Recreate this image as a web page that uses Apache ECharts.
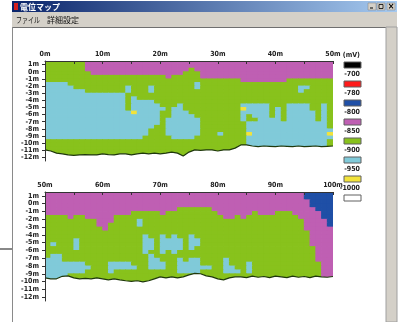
<!DOCTYPE html>
<html>
<head>
<meta charset="utf-8">
<script src="https://cdn.jsdelivr.net/npm/echarts@6/dist/echarts.min.js"></script>
<style>
  html, body { margin: 0; padding: 0; background: #fff; }
  #chart { width: 402px; height: 322px; }
</style>
</head>
<body>
<div id="chart"></div>
<script>
// level codes: b -780..-800, p -800..-850, g -850..-900, c -900..-950, y -950..-1000
const levelValue = { b: -790, p: -825, g: -875, c: -925, y: -975 };

const legendLabels = ['(mV)', '-700', '-780', '-800', '-850', '-900', '-950', '-1000'];
const legendColors = ['#000000', '#ff1a1a', '#1f4fa6', '#bf5fb3', '#88c21c', '#80cad9', '#f2e33a', '#ffffff'];

const depthTicks = [1, 0, -1, -2, -3, -4, -5, -6, -7, -8, -9, -10, -11, -12];

// one column per metre, one row per 0.5 m from +1.5 m down (run-length: code + count)
const mapTop = [
  'g7 p43', 'g7 p43', 'g7 p18 g1 p24', 'g8 p16 g3 p23', 'g21 p1 g5 p23',
  'g34 p8 g8', 'c4 g22 c1 g23', 'c5 g9 c1 g3 c1 g7 c1 g17 c2 g4',
  'c7 g7 c1 g3 c1 g25 c1 g5', 'c14 g36', 'c14 g1 c1 g34', 'c14 g1 c4 g31',
  'c14 g1 c5 g3 c1 g10 c5 g3 c4 g2 c1 g1',
  'c14 g1 c6 g1 c2 g10 y1 c4 g1 c1 g1 c4 g2 c1 g1',
  'c15 y1 c4 g2 c3 g9 c5 g1 c1 g1 c5 g1 c1 g1',
  'c20 g2 c4 g8 c1 g1 c3 g1 c1 g1 c5 g1 c1 g1',
  'c20 g1 c6 g7 c1 g2 c4 g1 c5 g1 c1 g1',
  'c20 g1 c6 g8 c14 g1', 'c19 g2 c6 g8 c14 g1', 'c18 g3 c6 g8 c15',
  'c18 g3 c6 g3 c1 g4 y1 c13 y1', 'c17 g5 c4 g9 c15',
  'g35 c14 g1', 'g35 c14 g1', 'g35 c14 g1', 'g35 c14 g1', 'g35 c14 g1'
];
const mapBottom = [
  'p45 b5', 'p45 b5', 'p46 b4', 'p46 b4', 'p23 g6 p18 b3',
  'p15 g5 p1 g9 p6 g1 p3 g3 p5 b2', 'g4 p1 g2 p5 g19 p2 g1 p1 g9 p4 b2',
  'g9 p3 g4 c1 g28 p4 b1', 'g9 p2 g5 c1 g28 p4 b1', 'g10 p1 g34 p5', 'g46 p4',
  'g17 c1 g2 c1 g1 c1 g2 c1 g20 p4', 'g5 c1 g11 c2 g1 c4 g1 c2 g19 p4',
  'g1 c1 g3 c1 g11 c2 g1 c4 g1 c2 g19 p4', 'g5 c1 g11 c2 g1 c4 g1 c1 g21 p3',
  'g17 c1 g2 c1 g1 c1 g24 p3', 'g1 c2 g15 c1 g28 p3',
  'c3 g15 c2 g3 c1 g1 c2 g4 c1 g15 p3',
  'c7 g4 c4 g3 c3 g2 c4 g4 c1 g3 c1 g12 p2',
  'c8 g3 c5 g2 c3 g2 c6 g2 c2 g2 c1 g12 p2',
  'c7 g4 c1 g11 c4 g4 c3 g1 c1 g12 p2',
  'c4 g44 p2', 'c4 g44 p2', 'c3 g45 p2'
];

// lower edge of the measured area, one value per metre (m)
const edgeTop = [-10.95, -11.1, -11.4, -11.5, -11.65, -11.7, -11.65, -11.6, -11.65, -11.65,
  -11.5, -11.6, -11.65, -11.5, -11.5, -11.65, -11.5, -11.4, -11.5, -11.4,
  -11.5, -11.4, -11.25, -11.4, -11.8, -11.25, -10.95, -11.0, -10.95, -10.95,
  -11.1, -10.95, -10.95, -10.7, -10.25, -10.25, -10.4, -10.5, -10.4, -10.45,
  -10.5, -10.4, -10.45, -10.5, -10.4, -10.5, -10.45, -10.4, -10.5, -10.45, -10.4];
const edgeBottom = [-9.53, -9.65, -9.65, -9.33, -9.27, -9.53, -9.65, -9.6, -9.65, -9.53,
  -9.65, -9.78, -9.65, -9.78, -9.9, -9.97, -9.9, -10.04, -9.9, -9.65,
  -9.4, -9.53, -9.4, -9.53, -9.4, -9.14, -8.95, -9.0, -9.27, -9.4,
  -9.65, -9.78, -9.53, -9.4, -9.4, -9.5, -9.3, -9.45, -9.35, -9.5,
  -9.3, -9.4, -9.5, -9.3, -9.45, -9.35, -9.5, -9.3, -9.4, -9.45, -9.35];

function expand(rle) {
  return rle.split(' ').map(t => t[0].repeat(+t.slice(1))).join('');
}
function cells(map) {
  const out = [];
  map.forEach((rle, r) => {
    const s = expand(rle);
    for (let c = 0; c < s.length; c++) out.push([c, r, levelValue[s[c]]]);
  });
  return out;
}

const colCats = Array.from({ length: 50 }, (_, i) => String(i));
const rowCats = Array.from({ length: 28 }, (_, i) => String(i));

const axisFont = { fontSize: 7, fontWeight: 'bold', color: '#222',
  fontFamily: 'Liberation Sans Narrow, DejaVu Sans Condensed, sans-serif' };

function distAxis(grid, min, max) {
  return {
    type: 'value', gridIndex: grid, position: 'top', min: min, max: max, interval: 5, z: 5,
    axisLine: { onZero: false, lineStyle: { color: '#333', width: 1 } },
    axisTick: { inside: true, length: 3, lineStyle: { color: '#333' } },
    axisLabel: Object.assign({ margin: 3, formatter: v => (v % 10 === 0 ? v + 'm' : '') }, axisFont),
    splitLine: { show: false }
  };
}
function depthAxis(grid) {
  return {
    type: 'value', gridIndex: grid, position: 'left', min: -12.5, max: 1.5, z: 5,
    axisLine: { onZero: false, lineStyle: { color: '#333', width: 1 } },
    axisTick: { length: 3, customValues: depthTicks, lineStyle: { color: '#333' } },
    axisLabel: Object.assign({ margin: 6, customValues: depthTicks, formatter: v => v + 'm' }, axisFont),
    splitLine: { show: false }
  };
}
// one filled cell per grid value, overlapping slightly so no seams show
function cellSeries(data, xi, yi) {
  return {
    type: 'custom', xAxisIndex: xi, yAxisIndex: yi, data: data, silent: true, clip: true,
    encode: { x: 0, y: 1 },
    renderItem: function (params, api) {
      const p = api.coord([api.value(0), api.value(1)]);
      const s = api.size([1, 1]);
      return {
        type: 'rect',
        shape: { x: p[0] - s[0] / 2 - 0.4, y: p[1] - s[1] / 2 - 0.4, width: s[0] + 0.8, height: s[1] + 0.8 },
        style: { fill: api.visual('color') }
      };
    }
  };
}
function edgeLine(x0, edge, xi, yi) {
  return {
    type: 'line', xAxisIndex: xi, yAxisIndex: yi, z: 3, symbol: 'none', silent: true,
    data: edge.map((v, i) => [x0 + i, v]),
    lineStyle: { color: '#1f380c', width: 1.2 },
    areaStyle: { color: '#ffffff', opacity: 1, origin: 'start' }
  };
}

const graphic = [
  { type: 'rect', shape: { x: 12, y: 1, width: 385, height: 11 }, silent: true,
    style: { fill: { type: 'linear', x: 0, y: 0, x2: 1, y2: 0,
      colorStops: [{ offset: 0, color: '#0a246a' }, { offset: 1, color: '#a6caf0' }] } } },
  { type: 'rect', shape: { x: 14, y: 3, width: 4, height: 7 }, style: { fill: '#d42020' } },
  { type: 'text', x: 20, y: 6.5, style: { text: '電位マップ', fill: '#fff', fontSize: 8, fontWeight: 'bold',
    fontFamily: 'Noto Sans CJK JP', verticalAlign: 'middle' } },
  { type: 'rect', shape: { x: 368, y: 3, width: 8, height: 7 }, style: { fill: '#d4d0c8', stroke: '#808080', lineWidth: 0.5 } },
  { type: 'rect', shape: { x: 377, y: 3, width: 8, height: 7 }, style: { fill: '#d4d0c8', stroke: '#808080', lineWidth: 0.5 } },
  { type: 'rect', shape: { x: 387, y: 3, width: 8, height: 7 }, style: { fill: '#d4d0c8', stroke: '#808080', lineWidth: 0.5 } },
  { type: 'rect', shape: { x: 370, y: 7.5, width: 3, height: 1 }, style: { fill: '#000' } },
  { type: 'rect', shape: { x: 379, y: 4.5, width: 4, height: 4 }, style: { fill: 'none', stroke: '#000', lineWidth: 0.8 } },
  { type: 'text', x: 391, y: 6.5, style: { text: '×', fill: '#000', fontSize: 8, fontWeight: 'bold',
    align: 'center', verticalAlign: 'middle', fontFamily: 'DejaVu Sans' } },
  { type: 'rect', shape: { x: 12, y: 12, width: 385, height: 15 }, style: { fill: '#d4d0c8' } },
  { type: 'text', x: 16, y: 19.5, scaleX: 0.75, style: { text: 'ファイル', fill: '#111', fontSize: 8,
    fontFamily: 'Noto Sans CJK JP', verticalAlign: 'middle' } },
  { type: 'text', x: 47, y: 19.5, style: { text: '詳細設定', fill: '#111', fontSize: 8,
    fontFamily: 'Noto Sans CJK JP', verticalAlign: 'middle' } },
  { type: 'rect', shape: { x: 12, y: 27, width: 374, height: 1 }, style: { fill: '#6f6f6f' } },
  { type: 'rect', shape: { x: 12, y: 27, width: 1, height: 295 }, style: { fill: '#8a8a8a' } },
  { type: 'rect', shape: { x: 386, y: 27, width: 11, height: 295 }, style: { fill: '#d4d0c8', stroke: '#a0a0a0', lineWidth: 1 } },
  { type: 'rect', shape: { x: 0, y: 248.5, width: 12, height: 1 }, style: { fill: '#111' } }
];
legendLabels.forEach((t, i) => {
  graphic.push({ type: 'text', x: 360, y: 55.5 + 19 * i, style: { text: t, fill: '#222', align: 'right',
    verticalAlign: 'middle', fontSize: 7, fontWeight: 'bold',
    fontFamily: 'Liberation Sans Narrow, DejaVu Sans Condensed, sans-serif' } });
  graphic.push({ type: 'rect', shape: { x: 344, y: 62 + 19 * i, width: 17, height: 6 },
    style: { fill: legendColors[i], stroke: '#606060', lineWidth: 1 } });
});

const chart = echarts.init(document.getElementById('chart'));
chart.setOption({
  animation: false,
  backgroundColor: '#ffffff',
  grid: [
    { left: 45, top: 61, width: 288, height: 100 },
    { left: 45, top: 192, width: 288, height: 109 }
  ],
  xAxis: [
    { type: 'category', gridIndex: 0, data: colCats, show: false },
    distAxis(0, 0, 50),
    { type: 'category', gridIndex: 1, data: colCats, show: false },
    distAxis(1, 50, 100)
  ],
  yAxis: [
    { type: 'category', gridIndex: 0, data: rowCats, inverse: true, show: false },
    depthAxis(0),
    { type: 'category', gridIndex: 1, data: rowCats, inverse: true, show: false },
    depthAxis(1)
  ],
  visualMap: {
    type: 'piecewise', show: false, dimension: 2, seriesIndex: [0, 1],
    pieces: [
      { gt: -700, color: legendColors[0] },
      { gt: -780, lte: -700, color: legendColors[1] },
      { gt: -800, lte: -780, color: legendColors[2] },
      { gt: -850, lte: -800, color: legendColors[3] },
      { gt: -900, lte: -850, color: legendColors[4] },
      { gt: -950, lte: -900, color: legendColors[5] },
      { gt: -1000, lte: -950, color: legendColors[6] },
      { lte: -1000, color: legendColors[7] }
    ]
  },
  series: [
    cellSeries(cells(mapTop), 0, 0),
    cellSeries(cells(mapBottom), 2, 2),
    edgeLine(0, edgeTop, 1, 1),
    edgeLine(50, edgeBottom, 3, 3)
  ],
  graphic: graphic
});
</script>
</body>
</html>
